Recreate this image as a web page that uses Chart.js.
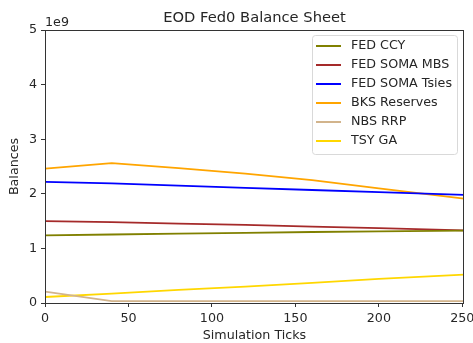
<!DOCTYPE html>
<html>
<head>
<meta charset="utf-8">
<script src="https://cdn.jsdelivr.net/npm/chart.js@4"></script>
<style>
  html, body { margin: 0; padding: 0; background: #fff; }
  #wrap { width: 473px; height: 343px; position: relative; }
</style>
</head>
<body>
<div id="wrap"><canvas id="balanceChart"></canvas></div>
<script>
// Simulation ticks where the series were sampled
const ticks = [0, 40, 80, 120, 160, 200, 251];

// Balances (units of 1e9)
const fedCcy      = [1.24, 1.255, 1.27, 1.285, 1.30, 1.31, 1.325];
const fedSomaMbs  = [1.50, 1.48, 1.455, 1.43, 1.40, 1.37, 1.33];
const fedSomaTsy  = [2.22, 2.19, 2.15, 2.11, 2.07, 2.03, 1.98];
const bksReserves = [2.46, 2.56, 2.47, 2.37, 2.25, 2.10, 1.91];
const nbsRrp      = [0.21, 0.035, 0.035, 0.035, 0.035, 0.035, 0.035];
const tsyGa       = [0.11, 0.17, 0.24, 0.30, 0.37, 0.44, 0.52];

const xTickLabels = [0, 50, 100, 150, 200, 250];
const yTickLabels = [0, 1, 2, 3, 4, 5];

const seriesNames = ['FED CCY', 'FED SOMA MBS', 'FED SOMA Tsies', 'BKS Reserves', 'NBS RRP', 'TSY GA'];
const seriesData = [fedCcy, fedSomaMbs, fedSomaTsy, bksReserves, nbsRrp, tsyGa];
const seriesColors = ['#808000', '#A52A2A', '#0000FF', '#FFA500', '#D2B48C', '#FFD700'];

const FONT = 'DejaVu Sans';
const FS = 12.7;
const TEXT = '#262626';
const SPINE = '#333';

// matplotlib-like frame, title, offset text and legend
const decorations = {
    id: 'decorations',
    afterDraw(chart) {
        const ctx = chart.ctx;
        const a = chart.chartArea;
        ctx.save();
        ctx.strokeStyle = SPINE;
        ctx.lineWidth = 1;
        ctx.strokeRect(a.left + 0.5, a.top + 0.5, a.right - a.left - 1, a.bottom - a.top);

        // title
        ctx.fillStyle = TEXT;
        ctx.font = '14.7px "' + FONT + '"';
        ctx.textAlign = 'center';
        ctx.textBaseline = 'alphabetic';
        ctx.fillText('EOD Fed0 Balance Sheet', (a.left + a.right) / 2, 22);

        // offset text
        ctx.font = FS + 'px "' + FONT + '"';
        ctx.textAlign = 'left';
        ctx.fillText('1e9', a.left, 26);

        // legend
        const lx = 312, ly = 35, lw = 145, lh = 119;
        ctx.fillStyle = 'rgba(255,255,255,0.8)';
        ctx.strokeStyle = '#d9d9d9';
        ctx.beginPath();
        ctx.roundRect(lx + 0.5, ly + 0.5, lw, lh, 3);
        ctx.fill();
        ctx.stroke();
        ctx.textBaseline = 'middle';
        chart.data.datasets.forEach((ds, i) => {
            const y = ly + 11 + i * 19;
            ctx.strokeStyle = ds.borderColor;
            ctx.lineWidth = 2;
            ctx.beginPath();
            ctx.moveTo(lx + 4, y);
            ctx.lineTo(lx + 29, y);
            ctx.stroke();
            ctx.fillStyle = TEXT;
            ctx.fillText(ds.label, lx + 39, y);
        });
        ctx.restore();
    }
};

const ctx = document.getElementById('balanceChart').getContext('2d');
const balanceChart = new Chart(ctx, {
    type: 'line',
    data: {
        datasets: seriesNames.map((name, i) => ({
            label: name,
            data: ticks.map((t, j) => ({ x: t, y: seriesData[i][j] * 1e9 })),
            borderColor: seriesColors[i],
            backgroundColor: seriesColors[i],
            borderWidth: 1.8,
            pointRadius: 0,
            tension: 0,
            fill: false
        }))
    },
    options: {
        responsive: true,
        maintainAspectRatio: false,
        animation: false,
        layout: { padding: { top: 30, right: 9, left: 0, bottom: 0 } },
        scales: {
            x: {
                type: 'linear',
                min: 0,
                max: 251,
                afterBuildTicks: scale => { scale.ticks = xTickLabels.map(v => ({ value: v })); },
                afterFit: scale => { scale.height = 40; scale.paddingLeft = 0; scale.paddingRight = 0; },
                grid: { drawOnChartArea: false, color: SPINE, tickLength: 4, tickColor: SPINE },
                border: { display: false },
                ticks: { color: TEXT, font: { family: FONT, size: FS }, padding: 4, maxRotation: 0 },
                title: { display: true, text: 'Simulation Ticks', color: TEXT, font: { family: FONT, size: FS }, padding: { top: 0, bottom: 0 } }
            },
            y: {
                min: 0,
                max: 5e9,
                afterBuildTicks: scale => { scale.ticks = yTickLabels.map(v => ({ value: v * 1e9 })); },
                afterFit: scale => { scale.width = 45; scale.paddingTop = 0; scale.paddingBottom = 0; },
                grid: { drawOnChartArea: false, color: SPINE, tickLength: 4, tickColor: SPINE },
                border: { display: false },
                ticks: { color: TEXT, font: { family: FONT, size: FS }, padding: 4, callback: v => String(v / 1e9) },
                title: { display: true, text: 'Balances', color: TEXT, font: { family: FONT, size: FS }, padding: { top: 7, bottom: 0 } }
            }
        },
        plugins: {
            legend: { display: false },
            title: { display: false },
            tooltip: { enabled: false }
        }
    },
    plugins: [decorations]
});
</script>
</body>
</html>
